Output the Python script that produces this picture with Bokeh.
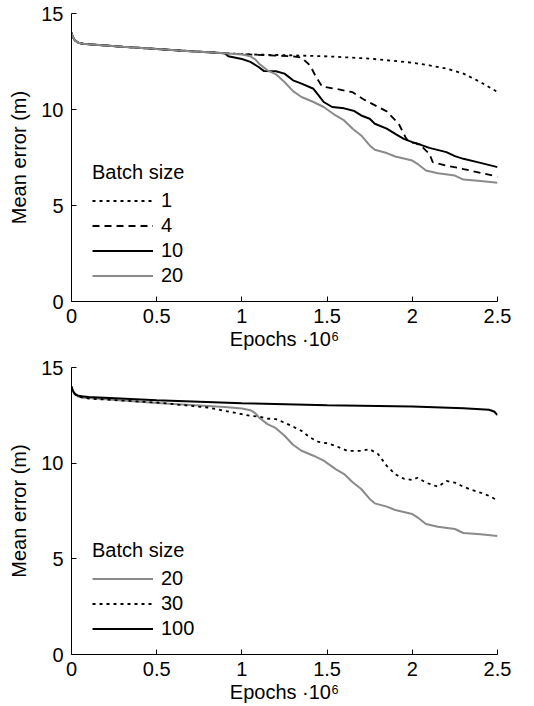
from bokeh.plotting import figure
from bokeh.layouts import column
from bokeh.models import Legend, LegendItem, FixedTicker
from bokeh.embed import file_html
from bokeh.resources import INLINE

# ---- data (epochs in millions, mean error in metres) ----
common_x = [0.0, 0.005, 0.01, 0.02, 0.04, 0.07, 0.1, 0.3, 0.5, 0.7, 0.9]
common_y = [14.0, 13.85, 13.75, 13.6, 13.48, 13.42, 13.4, 13.27, 13.15, 13.04, 12.93]

b1_x = common_x + [1.0, 1.3, 1.5, 1.75, 2.0, 2.1, 2.2, 2.3, 2.4, 2.5]
b1_y = common_y + [12.88, 12.82, 12.77, 12.65, 12.44, 12.3, 12.13, 11.87, 11.43, 10.91]

b4_x = common_x + [1.0, 1.3, 1.35, 1.4, 1.43, 1.47, 1.55, 1.65, 1.72, 1.8, 1.85, 1.92,
                   1.96, 1.98, 2.02, 2.05, 2.1, 2.12, 2.2, 2.3, 2.5]
b4_y = common_y + [12.88, 12.77, 12.7, 12.3, 11.78, 11.2, 11.08, 10.9, 10.5, 10.13, 9.9, 9.26,
                   8.56, 8.3, 8.25, 8.12, 7.69, 7.26, 7.08, 6.9, 6.5]

b10_x = common_x + [0.92, 1.0, 1.05, 1.1, 1.13, 1.2, 1.25, 1.3, 1.35, 1.42, 1.45, 1.48, 1.53,
                    1.6, 1.66, 1.7, 1.75, 1.78, 1.85, 1.9, 1.95, 2.0, 2.05, 2.1, 2.2, 2.25,
                    2.3, 2.4, 2.5]
b10_y = common_y + [12.77, 12.63, 12.48, 12.2, 12.0, 11.99, 11.87, 11.52, 11.35, 11.08, 10.74,
                    10.39, 10.13, 10.06, 9.92, 9.69, 9.52, 9.26, 9.0, 8.73, 8.47, 8.3, 8.16,
                    8.0, 7.78, 7.57, 7.43, 7.22, 7.0]

b20_x = common_x + [1.0, 1.05, 1.08, 1.1, 1.15, 1.2, 1.25, 1.3, 1.35, 1.42, 1.48, 1.55, 1.6,
                    1.65, 1.7, 1.75, 1.78, 1.85, 1.9, 2.0, 2.03, 2.08, 2.15, 2.25, 2.3, 2.4, 2.5]
b20_y = common_y + [12.86, 12.77, 12.6, 12.39, 12.04, 11.83, 11.43, 10.96, 10.65, 10.39,
                    10.13, 9.69, 9.43, 9.0, 8.65, 8.13, 7.9, 7.73, 7.55, 7.34, 7.17, 6.82,
                    6.68, 6.56, 6.35, 6.28, 6.19]

b30_x = [0.0, 0.005, 0.01, 0.02, 0.04, 0.07, 0.1, 0.3, 0.5, 0.8, 0.85, 1.0, 1.05, 1.1, 1.15,
         1.2, 1.25, 1.3, 1.35, 1.4, 1.45, 1.5, 1.55, 1.62, 1.7, 1.75, 1.8, 1.85, 1.9, 1.95,
         2.0, 2.03, 2.08, 2.15, 2.2, 2.25, 2.3, 2.35, 2.4, 2.45, 2.5]
b30_y = [14.0, 13.85, 13.75, 13.6, 13.48, 13.42, 13.38, 13.27, 13.17, 12.91, 12.82, 12.56,
         12.47, 12.44, 12.33, 12.3, 12.12, 11.91, 11.69, 11.34, 11.11, 11.04, 10.9, 10.64,
         10.64, 10.73, 10.47, 9.86, 9.42, 9.19, 9.12, 9.24, 8.98, 8.77, 9.07, 8.98, 8.77,
         8.6, 8.46, 8.29, 8.06]

b100_x = [0.0, 0.005, 0.01, 0.02, 0.04, 0.07, 0.1, 0.5, 1.0, 1.5, 2.0, 2.3, 2.45, 2.48, 2.5]
b100_y = [14.0, 13.85, 13.75, 13.62, 13.52, 13.49, 13.46, 13.29, 13.13, 13.03, 12.96, 12.87,
          12.79, 12.7, 12.52]

x_ticks = [0, 0.5, 1, 1.5, 2, 2.5]
x_tick_labels = {0: "0", 0.5: "0.5", 1: "1", 1.5: "1.5", 2: "2", 2.5: "2.5"}
y_ticks = [0, 5, 10, 15]
x_title = "Epochs \u00b710\u2076"
y_title = "Mean error (m)"

FONT = "Liberation Sans"
FS = "20px"
GRAY = "#8a8a8a"


def make_fig(height, top, bottom):
    p = figure(width=526, height=height, x_range=(0, 2.5), y_range=(0, 15),
               output_backend="svg", toolbar_location=None,
               min_border_left=71, min_border_right=29,
               min_border_top=top, min_border_bottom=bottom)
    p.outline_line_color = None
    p.grid.visible = False
    p.background_fill_color = None
    p.border_fill_color = None
    for ax in (p.xaxis[0], p.yaxis[0]):
        ax.major_tick_in = 5
        ax.major_tick_out = 0
        ax.minor_tick_line_color = None
        ax.axis_line_color = "black"
        ax.major_tick_line_color = "black"
        ax.major_label_text_font = FONT
        ax.major_label_text_font_size = FS
        ax.major_label_text_color = "black"
        ax.axis_label_text_font = FONT
        ax.axis_label_text_font_size = FS
        ax.axis_label_text_font_style = "normal"
        ax.axis_label_text_color = "black"
    p.xaxis.ticker = FixedTicker(ticks=x_ticks)
    p.xaxis.major_label_overrides = x_tick_labels
    p.yaxis.ticker = FixedTicker(ticks=y_ticks)
    p.xaxis.axis_label = x_title
    p.yaxis.axis_label = y_title
    p.xaxis.major_label_standoff = 7
    p.xaxis.axis_label_standoff = 2
    p.yaxis.major_label_standoff = 8
    p.yaxis.axis_label_standoff = 8
    return p


def add_legend(p, items):
    leg = Legend(items=items, location=(21, 13), title="Batch size",
                 title_text_font=FONT, title_text_font_size=FS,
                 title_text_font_style="normal", title_text_color="black",
                 title_standoff=4,
                 label_text_font=FONT, label_text_font_size=FS, label_text_color="black",
                 glyph_width=61, glyph_height=25, label_height=25, spacing=0,
                 label_standoff=8, padding=0, margin=0,
                 border_line_color=None, background_fill_alpha=0)
    p.add_layout(leg)


p1 = make_fig(353, 13, 52)
r1 = p1.line(b1_x, b1_y, line_color="black", line_width=1.8, line_dash="3 4")
r4 = p1.line(b4_x, b4_y, line_color="black", line_width=1.8, line_dash="7 5")
r10 = p1.line(b10_x, b10_y, line_color="black", line_width=2)
r20 = p1.line(b20_x, b20_y, line_color=GRAY, line_width=2)
add_legend(p1, [LegendItem(label="1", renderers=[r1]),
                LegendItem(label="4", renderers=[r4]),
                LegendItem(label="10", renderers=[r10]),
                LegendItem(label="20", renderers=[r20])])

p2 = make_fig(353, 14, 52)
s20 = p2.line(b20_x, b20_y, line_color=GRAY, line_width=2)
s30 = p2.line(b30_x, b30_y, line_color="black", line_width=1.8, line_dash="3 4")
s100 = p2.line(b100_x, b100_y, line_color="black", line_width=2)
add_legend(p2, [LegendItem(label="20", renderers=[s20]),
                LegendItem(label="30", renderers=[s30]),
                LegendItem(label="100", renderers=[s100])])

layout = column(p1, p2, spacing=0)
open("out.html", "w").write(file_html(layout, INLINE))
